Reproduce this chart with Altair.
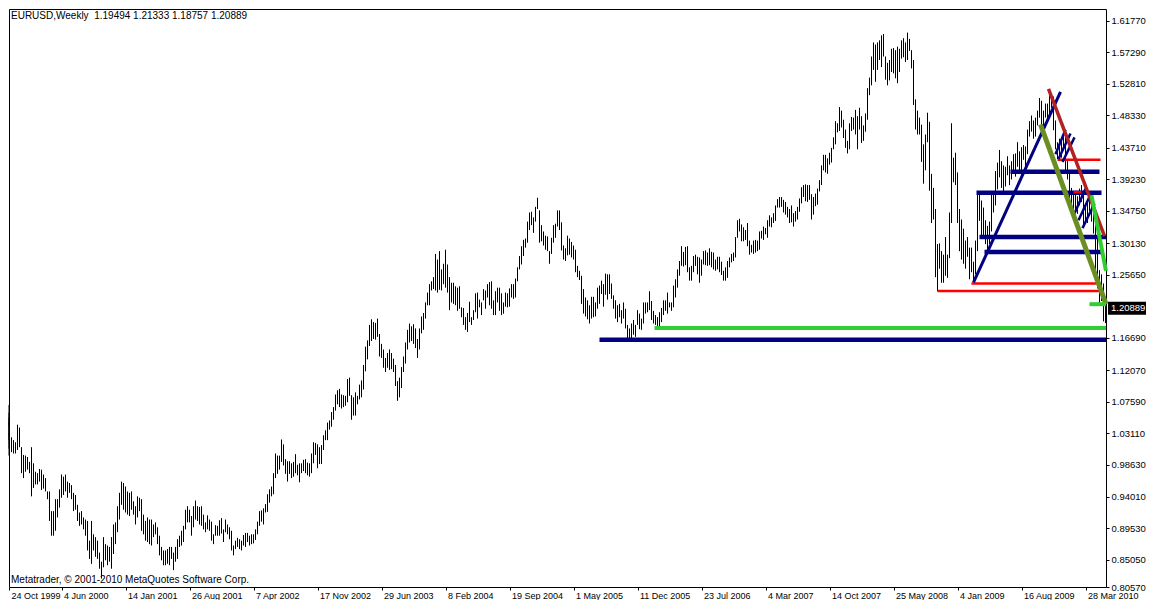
import altair as alt
import pandas as pd

# ---------------- weekly EURUSD bars (high / low), bar 0 = week of 24 Oct 1999 ----------------
hi_1999_2001 = [1.071,1.060,1.053,1.046,1.035,1.030,1.030,1.025,1.021,1.018,
                1.043,1.039,1.011,1.000,0.999,0.997,0.990,1.011,0.988,0.976,
                0.974,0.980,0.979,0.972,0.967,0.948,0.948,0.920,0.920,0.937,
                0.937,0.951,0.972,0.969,0.972,0.962,0.960,0.957,0.946,0.943,
                0.929,0.918,0.920,0.911,0.908,0.906,0.878,0.906,0.887,0.883,
                0.878,0.861,0.848,0.883,0.873,0.871,0.869,0.883,0.901,0.904,
                0.927,0.946,0.962,0.960,0.955,0.948,0.946,0.948,0.934,0.927,
                0.941,0.939,0.937,0.915,0.906,0.911,0.908,0.908,0.901,0.904,
                0.897,0.885,0.869,0.864,0.864,0.866,0.869,0.869,0.861,0.869,
                0.880,0.885,0.892,0.899]
lo_1999_2001 = [1.042,1.035,1.028,1.021,1.009,0.999,1.000,1.004,1.002,1.002,
                1.007,1.011,0.974,0.967,0.976,0.979,0.974,0.941,0.953,0.958,
                0.958,0.962,0.950,0.952,0.948,0.937,0.906,0.885,0.885,0.892,
                0.911,0.925,0.939,0.943,0.948,0.939,0.946,0.937,0.920,0.922,
                0.906,0.899,0.901,0.894,0.885,0.864,0.852,0.845,0.864,0.855,
                0.852,0.838,0.824,0.840,0.850,0.843,0.848,0.838,0.859,0.873,
                0.890,0.908,0.929,0.922,0.918,0.915,0.913,0.922,0.915,0.901,
                0.911,0.920,0.892,0.887,0.878,0.876,0.873,0.871,0.883,0.887,
                0.873,0.857,0.850,0.843,0.843,0.845,0.843,0.852,0.836,0.848,
                0.852,0.869,0.871,0.876]

hi_2001_2003 = [0.922,0.927,0.922,0.913,0.927,0.935,0.927,0.926,0.927,0.915,
                0.904,0.914,0.908,0.905,0.887,0.900,0.899,0.907,0.910,0.894,
                0.908,0.901,0.897,0.892,0.871,0.878,0.882,0.880,0.878,0.886,
                0.889,0.889,0.885,0.887,0.887,0.894,0.905,0.920,0.921,0.924,
                0.930,0.944,0.951,0.955,0.974,1.002,0.999,0.999,1.022,1.015,
                0.994,0.991,0.991,0.988,0.990,1.001,0.986,0.988,0.988,0.993,
                0.994,0.989,0.988,1.002,1.018,1.017,1.015,1.011,1.014,1.028,
                1.035,1.046,1.049,1.061,1.068,1.086,1.092,1.094,1.086,1.085,
                1.084,1.108,1.110,1.085,1.082,1.089,1.084,1.100,1.106,1.128,
                1.154,1.163]
lo_2001_2003 = [0.894,0.904,0.904,0.885,0.897,0.908,0.906,0.901,0.899,0.894,
                0.890,0.894,0.892,0.878,0.873,0.885,0.885,0.885,0.888,0.876,
                0.890,0.887,0.880,0.864,0.857,0.866,0.869,0.866,0.864,0.871,
                0.869,0.876,0.871,0.873,0.874,0.879,0.887,0.899,0.905,0.901,
                0.918,0.919,0.932,0.941,0.944,0.967,0.973,0.979,0.990,0.985,
                0.973,0.962,0.973,0.967,0.969,0.974,0.971,0.961,0.974,0.977,
                0.974,0.971,0.969,0.974,0.988,1.000,0.981,0.987,0.987,1.007,
                1.021,1.021,1.036,1.040,1.050,1.063,1.072,1.068,1.066,1.068,
                1.070,1.075,1.084,1.050,1.056,1.056,1.072,1.079,1.082,1.093,
                1.119,1.136]

hi_2003_2005 = [1.185,1.193,1.189,1.188,1.194,1.172,1.158,1.150,1.138,1.145,
                1.150,1.145,1.137,1.128,1.105,1.110,1.125,1.140,1.160,1.178,
                1.187,1.183,1.186,1.180,1.165,1.180,1.197,1.202,1.217,1.231,
                1.243,1.247,1.253,1.286,1.278,1.290,1.264,1.272,1.292,1.271,
                1.253,1.245,1.245,1.240,1.238,1.240,1.210,1.209,1.196,1.202,
                1.218,1.196,1.206,1.230,1.231,1.221,1.217,1.236,1.234,1.243,
                1.246,1.247,1.220,1.233,1.238,1.238,1.230,1.217,1.231,1.230,
                1.237,1.243,1.243,1.251,1.267,1.283,1.297,1.306,1.308,1.332,
                1.345,1.346,1.338,1.353,1.366,1.348,1.327,1.318,1.312,1.311]
lo_2003_2005 = [1.155,1.162,1.165,1.164,1.168,1.140,1.138,1.124,1.118,1.124,
                1.121,1.122,1.118,1.098,1.077,1.082,1.095,1.118,1.130,1.150,
                1.160,1.162,1.158,1.152,1.138,1.150,1.173,1.178,1.194,1.213,
                1.213,1.234,1.236,1.234,1.231,1.235,1.234,1.243,1.238,1.231,
                1.206,1.217,1.215,1.213,1.205,1.208,1.196,1.185,1.178,1.175,
                1.189,1.185,1.192,1.203,1.194,1.210,1.199,1.220,1.208,1.224,
                1.213,1.208,1.199,1.199,1.217,1.205,1.199,1.201,1.211,1.210,
                1.211,1.224,1.222,1.224,1.247,1.264,1.271,1.283,1.295,1.302,
                1.320,1.327,1.316,1.332,1.350,1.302,1.304,1.298,1.292,1.290]

hi_2005_2006 = [1.290,1.309,1.327,1.329,1.348,1.348,1.331,1.298,1.294,1.312,
                1.308,1.303,1.298,1.292,1.269,1.262,1.255,1.236,1.224,1.220,
                1.213,1.225,1.225,1.217,1.238,1.241,1.248,1.243,1.258,1.257,
                1.257,1.244,1.227,1.220,1.213,1.215,1.206,1.217,1.208,1.185,
                1.180,1.187,1.192,1.185,1.206,1.201,1.194,1.217,1.217,1.217,
                1.233,1.219,1.205,1.199,1.196,1.203,1.209,1.220,1.220,1.231,
                1.217,1.217,1.241,1.250,1.264,1.276,1.297,1.289,1.296,1.297,
                1.267,1.269,1.283,1.285,1.282,1.281,1.278,1.290,1.291,1.288,
                1.294,1.289,1.288,1.278,1.282,1.282,1.275,1.262,1.267,1.276,
                1.281,1.286,1.288,1.310,1.334]
lo_2005_2006 = [1.272,1.286,1.302,1.309,1.325,1.320,1.291,1.278,1.276,1.284,
                1.285,1.281,1.278,1.260,1.253,1.249,1.215,1.201,1.197,1.193,
                1.187,1.194,1.196,1.197,1.208,1.215,1.229,1.211,1.228,1.221,
                1.229,1.222,1.208,1.194,1.189,1.196,1.187,1.194,1.180,1.164,
                1.164,1.166,1.171,1.168,1.185,1.179,1.178,1.187,1.201,1.203,
                1.206,1.192,1.187,1.185,1.182,1.180,1.189,1.199,1.205,1.201,
                1.210,1.205,1.210,1.224,1.238,1.255,1.269,1.268,1.270,1.260,
                1.248,1.248,1.260,1.269,1.257,1.245,1.255,1.271,1.270,1.269,
                1.270,1.267,1.264,1.262,1.264,1.260,1.256,1.248,1.248,1.252,
                1.267,1.274,1.276,1.281,1.309]

hi_2006_2008 = [1.336,1.328,1.324,1.320,1.330,1.305,1.299,1.305,1.306,1.305,
                1.318,1.319,1.325,1.323,1.334,1.341,1.338,1.344,1.355,1.364,
                1.367,1.367,1.363,1.360,1.353,1.350,1.355,1.344,1.347,1.353,
                1.365,1.381,1.384,1.385,1.384,1.384,1.371,1.367,1.372,1.379,
                1.391,1.412,1.427,1.427,1.422,1.430,1.437,1.452,1.475,1.472,
                1.495,1.490,1.477,1.463,1.447,1.472,1.481,1.480,1.491,1.482,
                1.494,1.482,1.469,1.486,1.522,1.537,1.567,1.587,1.584,1.587,
                1.590,1.597,1.599,1.567,1.558,1.562,1.578,1.579,1.576,1.581,
                1.578,1.590,1.593,1.587,1.601,1.592,1.576,1.562,1.506,1.490,
                1.480,1.470,1.442]
lo_2006_2008 = [1.318,1.304,1.304,1.306,1.297,1.285,1.288,1.286,1.288,1.290,
                1.292,1.308,1.306,1.314,1.309,1.325,1.324,1.330,1.333,1.352,
                1.352,1.353,1.345,1.342,1.338,1.330,1.331,1.325,1.332,1.335,
                1.346,1.358,1.367,1.361,1.360,1.363,1.335,1.342,1.354,1.356,
                1.375,1.384,1.405,1.402,1.400,1.413,1.416,1.435,1.442,1.459,
                1.461,1.466,1.451,1.437,1.429,1.435,1.461,1.463,1.456,1.435,
                1.463,1.444,1.447,1.460,1.477,1.512,1.526,1.548,1.531,1.548,
                1.562,1.552,1.567,1.534,1.526,1.533,1.545,1.543,1.536,1.529,
                1.545,1.564,1.566,1.559,1.562,1.575,1.550,1.498,1.463,1.456,
                1.456,1.417,1.386]

hi_2008_2010 = [1.456,1.487,1.474,1.400,1.380,1.350,1.300,1.301,1.290,1.285,
                1.310,1.285,1.345,1.472,1.423,1.430,1.402,1.350,1.335,1.322,
                1.305,1.310,1.295,1.295,1.275,1.305,1.374,1.370,1.362,1.352,
                1.334,1.326,1.332,1.370,1.374,1.404,1.416,1.434,1.418,1.412,
                1.410,1.425,1.412,1.418,1.428,1.429,1.445,1.432,1.438,1.441,
                1.439,1.463,1.475,1.483,1.476,1.480,1.490,1.508,1.504,1.490,
                1.500,1.500,1.514,1.514,1.510,1.476,1.445,1.450,1.450,1.460,
                1.453,1.420,1.404,1.380,1.374,1.370,1.368,1.379,1.384,1.375,
                1.357,1.364,1.369,1.360,1.348,1.333,1.310,1.263,1.257,1.244,
                1.21333]
lo_2008_2010 = [1.405,1.445,1.376,1.330,1.335,1.253,1.233,1.265,1.245,1.245,
                1.255,1.252,1.280,1.330,1.388,1.384,1.330,1.290,1.278,1.272,
                1.265,1.282,1.250,1.260,1.246,1.257,1.290,1.333,1.310,1.311,
                1.300,1.290,1.300,1.318,1.345,1.355,1.378,1.395,1.380,1.375,
                1.382,1.398,1.384,1.392,1.405,1.396,1.410,1.404,1.398,1.420,
                1.410,1.428,1.453,1.460,1.450,1.453,1.469,1.480,1.463,1.466,
                1.480,1.479,1.484,1.494,1.462,1.435,1.421,1.424,1.423,1.433,
                1.405,1.392,1.360,1.353,1.345,1.345,1.343,1.355,1.360,1.327,
                1.330,1.330,1.347,1.332,1.315,1.255,1.237,1.214,1.219,1.190,
                1.18757]

highs = hi_1999_2001 + hi_2001_2003 + hi_2003_2005 + hi_2005_2006 + hi_2006_2008 + hi_2008_2010
lows = lo_1999_2001 + lo_2001_2003 + lo_2003_2005 + lo_2005_2006 + lo_2006_2008 + lo_2008_2010

# last bar OHLC shown in the header
last_ohlc = [1.19494, 1.21333, 1.18757, 1.20889]

# ---------------- axis labels ----------------
date_labels = ["24 Oct 1999", "4 Jun 2000", "14 Jan 2001", "26 Aug 2001", "7 Apr 2002",
               "17 Nov 2002", "29 Jun 2003", "8 Feb 2004", "19 Sep 2004", "1 May 2005",
               "11 Dec 2005", "23 Jul 2006", "4 Mar 2007", "14 Oct 2007", "25 May 2008",
               "4 Jan 2009", "16 Aug 2009", "28 Mar 2010"]
bars_per_label = 32
price_ticks = [1.6177, 1.5729, 1.5281, 1.4833, 1.4371, 1.3923, 1.3475, 1.3013, 1.2565,
               1.1669, 1.1207, 1.0759, 1.0311, 0.9863, 0.9401, 0.8953, 0.8505, 0.8057]

# ---------------- drawn objects (bar index, price) ----------------
# horizontal lines: kind, start bar, end bar, price
hlines = [
    ("navy_h", 301.0, 557.0, 1.1640),
    ("navy_h", 493.5, 552.5, 1.2889),
    ("navy_h", 491.0, 557.0, 1.3100),
    ("navy_h", 489.5, 552.0, 1.3732),
    ("navy_h", 506.5, 551.0, 1.4031),
    ("red_h", 470.0, 552.5, 1.2334),
    ("red_h", 487.0, 549.5, 1.2440),
    ("red_h", 530.0, 551.5, 1.4200),
    ("red_h", 538.0, 542.0, 1.3740),
    ("lime_h", 328.5, 557.0, 1.1807),
    ("lime_h", 546.0, 557.0, 1.2145),
]
# trend lines: kind, bar1, price1, bar2, price2
tlines = [
    ("navy_d", 488.0, 1.2454, 531.5, 1.5165),
    ("navy_s", 529.0, 1.4280, 534.0, 1.4632),
    ("navy_s", 530.5, 1.4210, 536.5, 1.4575),
    ("navy_s", 532.5, 1.4168, 538.5, 1.4519),
    ("navy_s", 538.5, 1.3437, 544.0, 1.3789),
    ("navy_s", 540.5, 1.3339, 546.5, 1.3704),
    ("navy_s", 542.5, 1.3227, 548.5, 1.3578),
    ("olive", 521.5, 1.4702, 554.5, 1.2145),
    ("brown", 525.5, 1.5208, 553.5, 1.3114),
    ("lime_d", 547.0, 1.3694, 554.5, 1.2618),
]

styles = {
    "navy_h": ("#000080", 4.5),
    "red_h": ("#FF0000", 2.5),
    "lime_h": ("#32CD32", 4.0),
    "navy_d": ("#000080", 3.0),
    "navy_s": ("#000080", 2.5),
    "olive": ("#6B8E23", 5.0),
    "brown": ("#B22222", 3.5),
    "lime_d": ("#32CD32", 4.0),
}
draw_order = ["navy_h", "red_h", "navy_d", "navy_s", "olive", "brown", "lime_h", "lime_d"]

# ---------------- build tables ----------------
n = min(len(highs), len(lows))
bars_df = pd.DataFrame({"i": list(range(n)), "hi": highs[:n], "lo": lows[:n]})

rows = []
for kind, a, b, p in hlines:
    rows.append({"kind": kind, "i1": a, "v1": p, "i2": b, "v2": p})
for kind, a, pa, b, pb in tlines:
    rows.append({"kind": kind, "i1": a, "v1": pa, "i2": b, "v2": pb})
seg_df = pd.DataFrame(rows)
seg_df["color"] = seg_df["kind"].map(lambda k: styles[k][0])
seg_df["width"] = seg_df["kind"].map(lambda k: styles[k][1])
seg_df["order"] = seg_df["kind"].map(lambda k: draw_order.index(k))
seg_df = seg_df.sort_values("order", kind="stable").reset_index(drop=True)

W, H = 1097, 578
FONT = "Liberation Sans"
xscale = alt.Scale(domain=[5.75, 5.75 + W / 2], clamp=True, nice=False, zero=False)
yscale = alt.Scale(domain=[0.812, 1.6346], clamp=True, nice=False, zero=False)

label_js = "[" + ",".join("'" + s + "'" for s in date_labels) + "]"

xaxis = alt.Axis(
    values=[k * bars_per_label for k in range(len(date_labels))],
    labelExpr=label_js + "[round(datum.value/" + str(bars_per_label) + ")]",
    labelAlign="left", labelBaseline="top", labelPadding=1, labelOffset=2,
    labelFlush=False, labelOverlap=False, labelBound=False,
    tickSize=3, tickColor="black", domain=False, grid=False, title=None,
    labelColor="black", labelFont=FONT, labelFontSize=9)
yaxis = alt.Axis(
    orient="right", values=price_ticks, format=".5f",
    tickSize=3, tickColor="black", labelPadding=2, labelOverlap=False,
    labelFlush=False, labelBound=False, domain=False, grid=False, title=None,
    labelColor="black", labelFont=FONT, labelFontSize=9.5)

bars = alt.Chart(bars_df).mark_rule(color="black", strokeWidth=1).encode(
    x=alt.X("i:Q", scale=xscale, axis=xaxis),
    y=alt.Y("lo:Q", scale=yscale, axis=yaxis),
    y2="hi:Q",
)

segs = alt.Chart(seg_df).mark_rule(strokeCap="butt").encode(
    x=alt.X("i1:Q", scale=xscale, axis=xaxis),
    x2="i2:Q",
    y=alt.Y("v1:Q", scale=yscale, axis=yaxis),
    y2="v2:Q",
    color=alt.Color("color:N", scale=None),
    strokeWidth=alt.StrokeWidth("width:Q", scale=None),
)

header_text = "EURUSD,Weekly\u00a0 " + " ".join(f"{v:.5f}" for v in last_ohlc)
header = alt.Chart(pd.DataFrame({"t": [header_text]})).mark_text(
    align="left", baseline="middle", font=FONT, fontSize=10, color="black"
).encode(x=alt.value(2), y=alt.value(7), text="t:N")

copyright_txt = alt.Chart(pd.DataFrame({"t": ["Metatrader, \u00a9 2001-2010 MetaQuotes Software Corp."]})).mark_text(
    align="left", baseline="middle", font=FONT, fontSize=10, color="black"
).encode(x=alt.value(2), y=alt.value(H - 7), text="t:N")

price_df = pd.DataFrame({"p": [last_ohlc[3]], "lbl": [f"{last_ohlc[3]:.5f}"]})
price_box = alt.Chart(price_df).mark_rule(color="black", strokeWidth=13).encode(
    x=alt.value(W + 2), x2=alt.value(W + 60),
    y=alt.Y("p:Q", scale=yscale, axis=yaxis),
)
price_lbl = alt.Chart(price_df).mark_text(
    align="left", baseline="middle", font=FONT, fontSize=9.5, color="white"
).encode(x=alt.value(W + 5), y=alt.Y("p:Q", scale=yscale, axis=yaxis), text="lbl:N")

chart = alt.layer(bars, segs, header, copyright_txt, price_box, price_lbl).properties(
    width=W, height=H,
    autosize=alt.AutoSizeParams(type="none"),
    padding={"left": 1, "top": 1, "right": 40, "bottom": 13},
    background="white",
).configure_view(stroke="black", strokeWidth=1)

chart.save("out.html", embed_options={"renderer": "svg", "actions": False})
